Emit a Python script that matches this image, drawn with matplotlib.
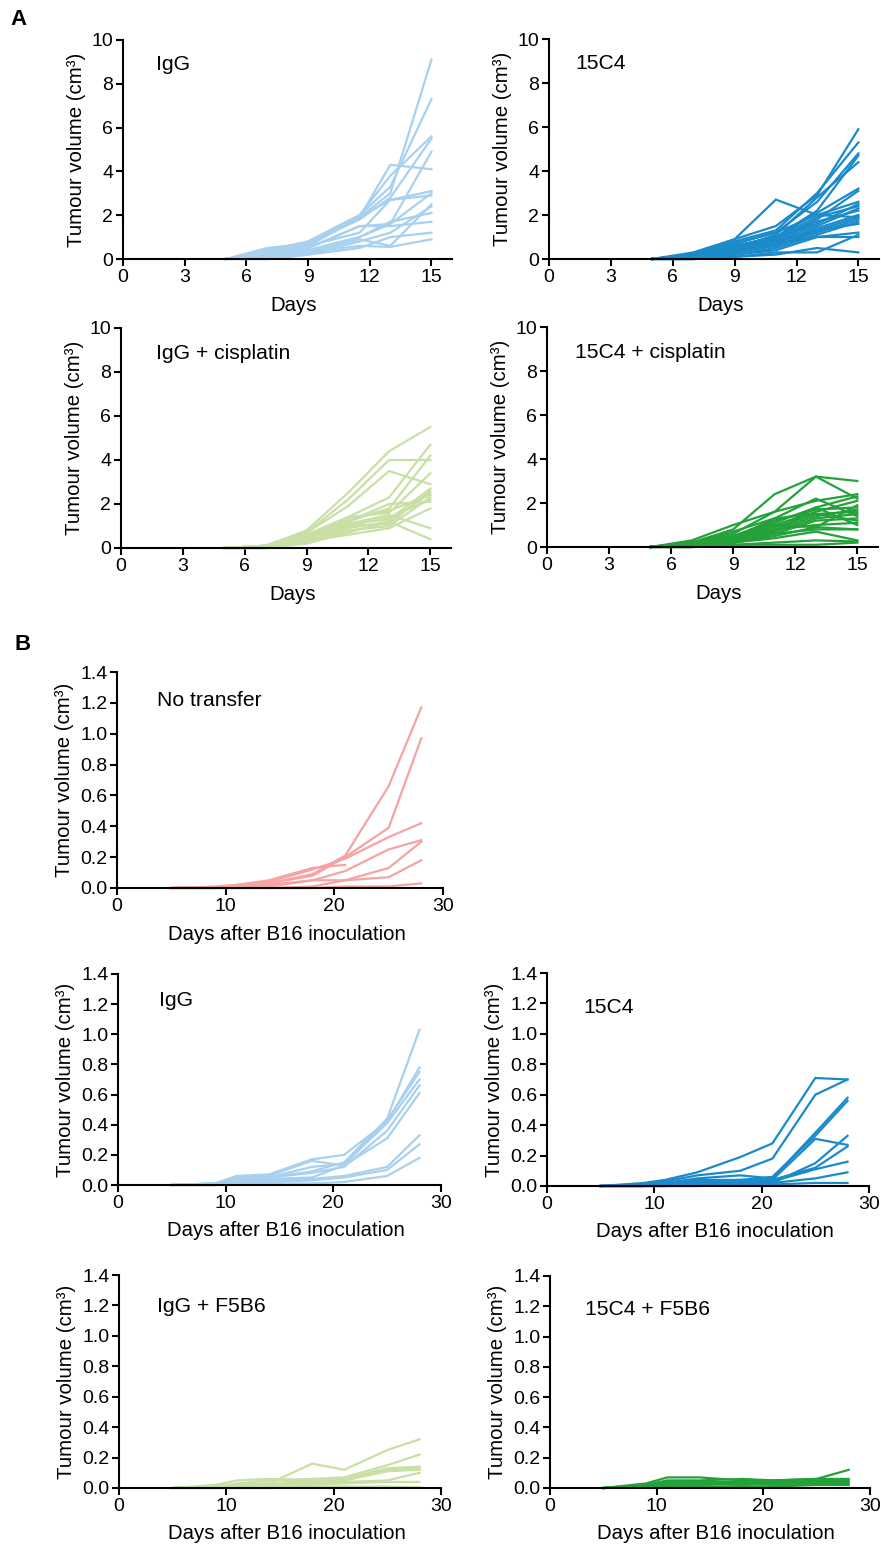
import numpy as np
import matplotlib
matplotlib.use("Agg")
import matplotlib.pyplot as plt

plt.rcParams["font.family"] = ["Liberation Sans", "DejaVu Sans"]

# ---- panel A: days after tumour inoculation ----
days_a = [5, 7, 9, 11, 13, 15]
days_a_igg = [5, 7, 9, 11.5, 13, 15]

igg_a = [
    [0, 0.5, 0.7, 1.9, 3.0, 9.1],
    [0, 0.4, 0.8, 2.0, 3.3, 7.3],
    [0, 0.3, 0.6, 1.9, 4.3, 4.1],
    [0, 0.2, 0.8, 2.0, 3.8, 5.6],
    [0, 0.3, 0.7, 1.8, 2.8, 5.5],
    [0, 0.2, 0.5, 1.5, 1.6, 4.9],
    [0, 0.1, 0.6, 1.9, 2.7, 3.1],
    [0, 0.1, 0.4, 1.0, 1.6, 3.0],
    [0, 0.2, 0.5, 1.5, 1.5, 1.7],
    [0, 0.1, 0.3, 0.9, 0.6, 2.5],
    [0, 0.0, 0.2, 0.8, 1.2, 2.4],
    [0, 0.1, 0.4, 1.0, 1.7, 2.1],
    [0, 0.0, 0.2, 0.5, 1.0, 1.2],
    [0, 0.1, 0.3, 0.6, 0.55, 0.9],
    [0, 0.2, 0.6, 1.2, 2.7, 2.9],
]

c15c4_a = [
    [0, 0.2, 0.9, 2.7, 2.0, 1.9],
    [0, 0.3, 0.9, 1.5, 2.9, 5.9],
    [0, 0.2, 0.8, 1.3, 3.0, 5.3],
    [0, 0.2, 0.7, 1.2, 2.6, 4.8],
    [0, 0.2, 0.6, 1.0, 2.2, 4.7],
    [0, 0.1, 0.5, 1.1, 2.8, 4.4],
    [0, 0.2, 0.6, 1.0, 2.1, 3.2],
    [0, 0.1, 0.5, 0.9, 1.8, 3.1],
    [0, 0.2, 0.7, 1.2, 2.0, 2.6],
    [0, 0.1, 0.4, 0.9, 1.6, 2.5],
    [0, 0.1, 0.5, 0.8, 1.5, 2.3],
    [0, 0.2, 0.6, 0.9, 1.7, 2.2],
    [0, 0.1, 0.3, 0.7, 1.4, 2.0],
    [0, 0.1, 0.4, 0.8, 1.3, 1.9],
    [0, 0.1, 0.3, 0.6, 1.2, 1.8],
    [0, 0.1, 0.2, 0.5, 1.1, 1.7],
    [0, 0.0, 0.3, 0.6, 1.3, 1.6],
    [0, 0.1, 0.4, 0.7, 1.0, 1.2],
    [0, 0.0, 0.2, 0.4, 1.0, 1.0],
    [0, 0.0, 0.1, 0.2, 0.5, 0.3],
    [0, 0.0, 0.1, 0.3, 0.3, 1.1],
    [0, 0.1, 0.5, 1.0, 1.9, 2.4],
]

igg_cis_a = [
    [0, 0.1, 0.8, 2.5, 4.4, 5.5],
    [0, 0.1, 0.7, 2.2, 4.0, 4.0],
    [0, 0.1, 0.7, 1.9, 3.5, 2.9],
    [0, 0.1, 0.6, 1.4, 2.3, 4.7],
    [0, 0.1, 0.5, 1.2, 1.8, 4.2],
    [0, 0.1, 0.6, 1.4, 1.6, 3.4],
    [0, 0.1, 0.5, 1.1, 1.3, 2.7],
    [0, 0.0, 0.4, 1.0, 1.1, 2.6],
    [0, 0.1, 0.5, 1.3, 1.7, 2.4],
    [0, 0.0, 0.3, 0.8, 1.0, 2.3],
    [0, 0.0, 0.4, 1.0, 1.4, 2.2],
    [0, 0.0, 0.3, 0.6, 0.9, 1.8],
    [0, 0.1, 0.4, 1.1, 1.5, 0.9],
    [0, 0.0, 0.3, 0.9, 1.2, 0.4],
    [0, 0.0, 0.2, 0.7, 1.2, 2.5],
    [0, 0.1, 0.5, 1.2, 2.0, 2.1],
]

c15c4_cis_a = [
    [0, 0.2, 0.8, 2.4, 3.2, 3.0],
    [0, 0.3, 1.0, 1.6, 3.2, 2.2],
    [0, 0.2, 0.7, 1.3, 2.2, 1.4],
    [0, 0.2, 0.6, 1.6, 2.1, 2.4],
    [0, 0.2, 0.5, 1.1, 1.8, 2.3],
    [0, 0.1, 0.4, 1.0, 1.6, 2.1],
    [0, 0.2, 0.5, 1.2, 1.7, 1.8],
    [0, 0.1, 0.4, 0.9, 1.5, 1.6],
    [0, 0.1, 0.3, 0.8, 1.4, 1.7],
    [0, 0.1, 0.4, 0.7, 1.3, 1.5],
    [0, 0.1, 0.3, 0.6, 1.2, 1.3],
    [0, 0.1, 0.3, 0.8, 1.0, 1.1],
    [0, 0.1, 0.2, 0.5, 0.9, 0.8],
    [0, 0.0, 0.2, 0.6, 0.8, 0.8],
    [0, 0.1, 0.3, 0.7, 1.8, 1.0],
    [0, 0.0, 0.2, 0.4, 0.7, 0.3],
    [0, 0.0, 0.1, 0.2, 0.3, 0.25],
    [0, 0.0, 0.1, 0.1, 0.1, 0.2],
    [0, 0.1, 0.4, 1.3, 1.5, 1.2],
    [0, 0.1, 0.5, 1.0, 0.9, 1.9],
]

# ---- panel B: days after B16 inoculation ----
days_b = [5, 9, 11, 14, 18, 21, 25, 28]
nan = np.nan

no_transfer_b = [
    [0, 0.005, 0.01, 0.03, 0.09, 0.21, 0.66, 1.17],
    [0, 0.005, 0.01, 0.03, 0.08, 0.20, 0.39, 0.97],
    [0, 0.005, 0.02, 0.04, 0.12, 0.19, 0.33, 0.42],
    [0, 0, 0.01, 0.02, 0.05, 0.11, 0.25, 0.31],
    [0, 0, 0, 0.01, 0.05, 0.05, 0.13, 0.30],
    [0, 0, 0, 0, 0.01, 0.05, 0.07, 0.18],
    [0, 0, 0, 0, 0, 0.01, 0.01, 0.03],
    [0, 0.01, 0.02, 0.05, 0.13, 0.15, nan, nan],
]

igg_b = [
    [0, 0.01, 0.04, 0.05, 0.09, 0.15, 0.44, 1.03],
    [0, 0.01, 0.06, 0.07, 0.17, 0.20, 0.42, 0.78],
    [0, 0.01, 0.05, 0.06, 0.16, 0.13, 0.43, 0.75],
    [0, 0.01, 0.03, 0.05, 0.12, 0.14, 0.41, 0.70],
    [0, 0.01, 0.04, 0.05, 0.08, 0.12, 0.36, 0.66],
    [0, 0.01, 0.03, 0.04, 0.05, 0.13, 0.31, 0.61],
    [0, 0, 0.02, 0.03, 0.04, 0.06, 0.12, 0.33],
    [0, 0, 0.02, 0.02, 0.03, 0.05, 0.10, 0.27],
    [0, 0, 0.01, 0.01, 0.01, 0.02, 0.06, 0.18],
]

c15c4_b = [
    [0, 0.02, 0.04, 0.09, 0.19, 0.28, 0.71, 0.70],
    [0, 0.01, 0.03, 0.07, 0.10, 0.18, 0.60, 0.70],
    [0, 0.01, 0.02, 0.05, 0.07, 0.05, 0.35, 0.58],
    [0, 0.01, 0.02, 0.04, 0.04, 0.06, 0.33, 0.56],
    [0, 0, 0.01, 0.03, 0.04, 0.04, 0.31, 0.27],
    [0, 0, 0.01, 0.02, 0.03, 0.02, 0.15, 0.33],
    [0, 0, 0.01, 0.02, 0.03, 0.04, 0.12, 0.26],
    [0, 0, 0, 0.01, 0.02, 0.03, 0.11, 0.16],
    [0, 0, 0, 0.01, 0.02, 0.02, 0.05, 0.09],
    [0, 0, 0, 0, 0.01, 0.01, 0.02, 0.02],
]

igg_f5b6_b = [
    [0, 0.01, 0.02, 0.03, 0.16, 0.12, 0.25, 0.32],
    [0, 0.01, 0.03, 0.05, 0.06, 0.07, 0.15, 0.22],
    [0, 0.02, 0.05, 0.06, 0.05, 0.06, 0.13, 0.14],
    [0, 0.01, 0.02, 0.03, 0.05, 0.05, 0.12, 0.13],
    [0, 0.01, 0.02, 0.03, 0.04, 0.05, 0.11, 0.12],
    [0, 0.01, 0.01, 0.02, 0.03, 0.04, 0.05, 0.10],
    [0, 0, 0.01, 0.01, 0.02, 0.03, 0.04, 0.04],
    [0, 0, 0, 0, 0.01, 0.01, 0.01, 0.005],
]

c15c4_f5b6_b = [
    [0, 0.03, 0.07, 0.07, 0.05, 0.05, 0.06, 0.12],
    [0, 0.02, 0.05, 0.05, 0.06, 0.05, 0.06, 0.06],
    [0, 0.02, 0.04, 0.04, 0.04, 0.04, 0.05, 0.05],
    [0, 0.01, 0.03, 0.03, 0.02, 0.03, 0.04, 0.04],
    [0, 0.01, 0.02, 0.02, 0.03, 0.02, 0.03, 0.03],
    [0, 0.01, 0.01, 0.01, 0.01, 0.01, 0.02, 0.02],
]

LIGHT_BLUE = "#A8D0EF"
BLUE = "#1B8ACA"
LIGHT_GREEN = "#C8E0A5"
GREEN = "#23A23A"
PINK = "#F5A3A3"

W, H = 881, 1553
fig = plt.figure(figsize=(W / 100, H / 100), dpi=100)

YLABEL = "Tumour volume (cm³)"


def px_axes(left, right, top, bottom):
    return fig.add_axes([left / W, 1 - bottom / H, (right - left) / W, (bottom - top) / H])


def spaghetti(ax, days, mice, color, title, tx, ty, xlim, xticks, ylim, yticks, yfmt, xlabel):
    for m in mice:
        ax.plot(days, m, color=color, lw=1.6, clip_on=False, solid_joinstyle="miter")
    ax.set_xlim(*xlim)
    ax.set_ylim(*ylim)
    ax.set_xticks(xticks)
    ax.set_yticks(yticks)
    ax.set_yticklabels([yfmt.format(v) for v in yticks])
    for s in ("top", "right"):
        ax.spines[s].set_visible(False)
    for s in ("left", "bottom"):
        ax.spines[s].set_linewidth(1.5)
        ax.spines[s].set_zorder(5)
    ax.tick_params(direction="out", length=5, width=1.5, labelsize=14, pad=2)
    ax.set_xlabel(xlabel, fontsize=14.7)
    ax.set_ylabel(YLABEL, fontsize=14.7)
    ax.xaxis.set_label_coords(0.52, -0.17)
    ax.text(tx, ty, title, transform=ax.transAxes, fontsize=15.2)


a_kw = dict(xlim=(0, 16), xticks=[0, 3, 6, 9, 12, 15], ylim=(0, 10),
            yticks=[0, 2, 4, 6, 8, 10], yfmt="{:g}", xlabel="Days")
b_kw = dict(xlim=(0, 30), xticks=[0, 10, 20, 30], ylim=(0, 1.4),
            yticks=[0, 0.2, 0.4, 0.6, 0.8, 1.0, 1.2, 1.4], yfmt="{:.1f}",
            xlabel="Days after B16 inoculation")

ax = px_axes(123, 452, 40, 259)
spaghetti(ax, days_a_igg, igg_a, LIGHT_BLUE, "IgG", 0.10, 0.863, **a_kw)
ax = px_axes(549, 879, 39, 259)
spaghetti(ax, days_a, c15c4_a, BLUE, "15C4", 0.08, 0.864, **a_kw)
ax = px_axes(121, 451, 328, 548)
spaghetti(ax, days_a, igg_cis_a, LIGHT_GREEN, "IgG + cisplatin", 0.106, 0.86, **a_kw)
ax = px_axes(547, 878, 327, 547)
spaghetti(ax, days_a, c15c4_cis_a, GREEN, "15C4 + cisplatin", 0.085, 0.86, **a_kw)

ax = px_axes(117, 443, 672, 888)
spaghetti(ax, days_b, no_transfer_b, PINK, "No transfer", 0.123, 0.843, **b_kw)
ax = px_axes(118, 441, 974, 1185)
spaghetti(ax, days_b, igg_b, LIGHT_BLUE, "IgG", 0.127, 0.848, **b_kw)
ax = px_axes(547, 869, 973, 1186)
spaghetti(ax, days_b, c15c4_b, BLUE, "15C4", 0.112, 0.81, **b_kw)
ax = px_axes(119, 441, 1275, 1488)
spaghetti(ax, days_b, igg_f5b6_b, LIGHT_GREEN, "IgG + F5B6", 0.118, 0.826, **b_kw)
ax = px_axes(550, 870, 1276, 1488)
spaghetti(ax, days_b, c15c4_f5b6_b, GREEN, "15C4 + F5B6", 0.109, 0.816, **b_kw)

fig.text(10 / W, 1 - 25 / H, "A", fontsize=16, fontweight="bold")
fig.text(14 / W, 1 - 650 / H, "B", fontsize=16, fontweight="bold")

fig.savefig("out.png", dpi=100)
